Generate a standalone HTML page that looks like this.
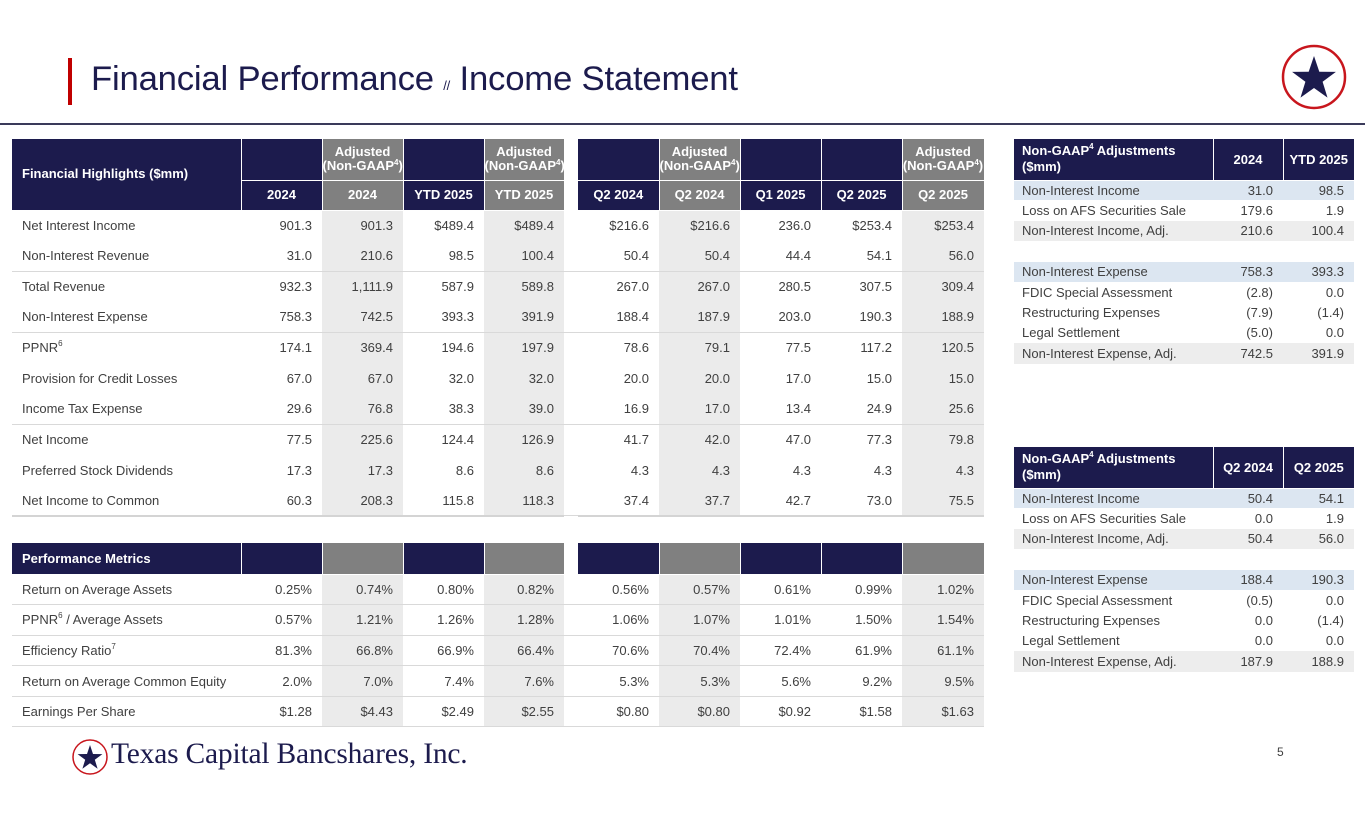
<!DOCTYPE html>
<html><head><meta charset="utf-8"><style>
*{margin:0;padding:0;box-sizing:border-box}
body{width:1365px;height:829px;background:#fff;position:relative;overflow:hidden;font-family:"Liberation Sans",Arial,sans-serif;color:#404040}
.abs{position:absolute}
table{border-collapse:collapse;table-layout:fixed;position:absolute}
td{font-size:13px;white-space:nowrap;padding:0 10px 0 0;text-align:right;vertical-align:middle}
td.l{text-align:left;padding-left:10px}
.n{background:#1c1b4d;color:#fff;font-weight:bold;border-right:1px solid #fff;border-bottom:1px solid #fff}
.g{background:#808080;color:#fff;font-weight:bold;border-right:1px solid #fff;border-bottom:1px solid #fff}
.h td.n,.h td.g{text-align:center;padding:0;line-height:14px}
.gap{background:#fff!important;border:none!important}
.s{background:#ebebeb}
tr.b td{height:30.6px}
tr.sep td{border-bottom:1px solid #d9d9d9}
tr.sep2 td{border-bottom:2px solid #d4d4d4}
tr.sep td.gap,tr.sep2 td.gap{border-bottom:1px solid #d9d9d9!important}
.rt td{height:20.4px;font-size:13px;color:#404040;padding-right:10px}
.rt td.l{padding-left:8px}
.rt td.n{color:#fff;font-weight:bold}
.bl td{background:#dce6f1}
.gr td{background:#ededed}
sup{font-size:8px;vertical-align:top;line-height:8px}
</style></head><body>
<div class="abs" style="left:68px;top:58px;width:4px;height:47px;background:#c00000"></div>
<div class="abs" style="left:91px;top:60px;font-size:34.7px;color:#1c1b4d;white-space:nowrap;letter-spacing:-0.2px">Financial Performance <span style="font-size:13px">//</span> Income Statement</div>
<div class="abs" style="left:0;top:123px;width:1365px;height:2px;background:#3a3a5a"></div>
<svg class="abs" style="left:1280px;top:44px" width="68" height="68" viewBox="0 0 68 68">
<circle cx="34" cy="33" r="31" fill="#fff" stroke="#c8161d" stroke-width="2.5"/>
<polygon fill="#1c1b4d" points="34,12 39.3,27.7 55.9,27.9 42.6,37.8 47.5,53.6 34,44 20.5,53.6 25.4,37.8 12.1,27.9 28.7,27.7"/>
</svg>

<table style="left:12px;top:139px;width:972px">
<colgroup><col style="width:229px"><col style="width:81px"><col style="width:81px"><col style="width:81px"><col style="width:80px"><col style="width:14px"><col style="width:81px"><col style="width:81px"><col style="width:81px"><col style="width:81px"><col style="width:82px"></colgroup>
<tr class="h" style="height:41px"><td class="n l" rowspan="2" style="text-align:left;padding-left:10px">Financial Highlights ($mm)</td><td class="n"></td><td class="g">Adjusted<br>(Non-GAAP<sup>4</sup>)</td><td class="n"></td><td class="g">Adjusted<br>(Non-GAAP<sup>4</sup>)</td><td class="gap"></td><td class="n"></td><td class="g">Adjusted<br>(Non-GAAP<sup>4</sup>)</td><td class="n"></td><td class="n"></td><td class="g">Adjusted<br>(Non-GAAP<sup>4</sup>)</td></tr>
<tr class="h" style="height:30px"><td class="n">2024</td><td class="g">2024</td><td class="n">YTD 2025</td><td class="g">YTD 2025</td><td class="gap"></td><td class="n">Q2 2024</td><td class="g">Q2 2024</td><td class="n">Q1 2025</td><td class="n">Q2 2025</td><td class="g">Q2 2025</td></tr>
<tr class="b"><td class="l">Net Interest Income</td><td>901.3</td><td class="s">901.3</td><td>$489.4</td><td class="s">$489.4</td><td class="gap"></td><td>$216.6</td><td class="s">$216.6</td><td>236.0</td><td>$253.4</td><td class="s">$253.4</td></tr>
<tr class="b sep"><td class="l">Non-Interest Revenue</td><td>31.0</td><td class="s">210.6</td><td>98.5</td><td class="s">100.4</td><td class="gap"></td><td>50.4</td><td class="s">50.4</td><td>44.4</td><td>54.1</td><td class="s">56.0</td></tr>
<tr class="b"><td class="l">Total Revenue</td><td>932.3</td><td class="s">1,111.9</td><td>587.9</td><td class="s">589.8</td><td class="gap"></td><td>267.0</td><td class="s">267.0</td><td>280.5</td><td>307.5</td><td class="s">309.4</td></tr>
<tr class="b sep"><td class="l">Non-Interest Expense</td><td>758.3</td><td class="s">742.5</td><td>393.3</td><td class="s">391.9</td><td class="gap"></td><td>188.4</td><td class="s">187.9</td><td>203.0</td><td>190.3</td><td class="s">188.9</td></tr>
<tr class="b"><td class="l">PPNR<sup>6</sup></td><td>174.1</td><td class="s">369.4</td><td>194.6</td><td class="s">197.9</td><td class="gap"></td><td>78.6</td><td class="s">79.1</td><td>77.5</td><td>117.2</td><td class="s">120.5</td></tr>
<tr class="b"><td class="l">Provision for Credit Losses</td><td>67.0</td><td class="s">67.0</td><td>32.0</td><td class="s">32.0</td><td class="gap"></td><td>20.0</td><td class="s">20.0</td><td>17.0</td><td>15.0</td><td class="s">15.0</td></tr>
<tr class="b sep"><td class="l">Income Tax Expense</td><td>29.6</td><td class="s">76.8</td><td>38.3</td><td class="s">39.0</td><td class="gap"></td><td>16.9</td><td class="s">17.0</td><td>13.4</td><td>24.9</td><td class="s">25.6</td></tr>
<tr class="b"><td class="l">Net Income</td><td>77.5</td><td class="s">225.6</td><td>124.4</td><td class="s">126.9</td><td class="gap"></td><td>41.7</td><td class="s">42.0</td><td>47.0</td><td>77.3</td><td class="s">79.8</td></tr>
<tr class="b"><td class="l">Preferred Stock Dividends</td><td>17.3</td><td class="s">17.3</td><td>8.6</td><td class="s">8.6</td><td class="gap"></td><td>4.3</td><td class="s">4.3</td><td>4.3</td><td>4.3</td><td class="s">4.3</td></tr>
<tr class="b sep2"><td class="l">Net Income to Common</td><td>60.3</td><td class="s">208.3</td><td>115.8</td><td class="s">118.3</td><td class="gap"></td><td>37.4</td><td class="s">37.7</td><td>42.7</td><td>73.0</td><td class="s">75.5</td></tr>
</table>

<table style="left:12px;top:543px;width:972px">
<colgroup><col style="width:229px"><col style="width:81px"><col style="width:81px"><col style="width:81px"><col style="width:80px"><col style="width:14px"><col style="width:81px"><col style="width:81px"><col style="width:81px"><col style="width:81px"><col style="width:82px"></colgroup>
<tr style="height:31px"><td class="n l" style="text-align:left">Performance Metrics</td><td class="n"></td><td class="g"></td><td class="n"></td><td class="g"></td><td class="gap"></td><td class="n"></td><td class="g"></td><td class="n"></td><td class="n"></td><td class="g"></td></tr>
<tr class="b sep"><td class="l">Return on Average Assets</td><td>0.25%</td><td class="s">0.74%</td><td>0.80%</td><td class="s">0.82%</td><td class="gap"></td><td>0.56%</td><td class="s">0.57%</td><td>0.61%</td><td>0.99%</td><td class="s">1.02%</td></tr>
<tr class="b sep"><td class="l">PPNR<sup>6</sup> / Average Assets</td><td>0.57%</td><td class="s">1.21%</td><td>1.26%</td><td class="s">1.28%</td><td class="gap"></td><td>1.06%</td><td class="s">1.07%</td><td>1.01%</td><td>1.50%</td><td class="s">1.54%</td></tr>
<tr class="b sep"><td class="l">Efficiency Ratio<sup>7</sup></td><td>81.3%</td><td class="s">66.8%</td><td>66.9%</td><td class="s">66.4%</td><td class="gap"></td><td>70.6%</td><td class="s">70.4%</td><td>72.4%</td><td>61.9%</td><td class="s">61.1%</td></tr>
<tr class="b sep"><td class="l">Return on Average Common Equity</td><td>2.0%</td><td class="s">7.0%</td><td>7.4%</td><td class="s">7.6%</td><td class="gap"></td><td>5.3%</td><td class="s">5.3%</td><td>5.6%</td><td>9.2%</td><td class="s">9.5%</td></tr>
<tr class="b sep"><td class="l">Earnings Per Share</td><td>$1.28</td><td class="s">$4.43</td><td>$2.49</td><td class="s">$2.55</td><td class="gap"></td><td>$0.80</td><td class="s">$0.80</td><td>$0.92</td><td>$1.58</td><td class="s">$1.63</td></tr>
</table>

<table class="rt" style="left:1014px;top:139px;width:340px">
<colgroup><col style="width:199px"><col style="width:70px"><col style="width:71px"></colgroup>
<tr style="height:41px"><td class="n l" style="height:41px;text-align:left;line-height:16px">Non-GAAP<sup>4</sup> Adjustments<br>($mm)</td><td class="n" style="text-align:center;padding:0">2024</td><td class="n" style="text-align:center;padding:0;border-right:none">YTD 2025</td></tr>
<tr class="bl"><td class="l">Non-Interest Income</td><td>31.0</td><td>98.5</td></tr>
<tr><td class="l">Loss on AFS Securities Sale</td><td>179.6</td><td>1.9</td></tr>
<tr class="gr"><td class="l">Non-Interest Income, Adj.</td><td>210.6</td><td>100.4</td></tr>
<tr><td class="l"></td><td></td><td></td></tr>
<tr class="bl"><td class="l">Non-Interest Expense</td><td>758.3</td><td>393.3</td></tr>
<tr><td class="l">FDIC Special Assessment</td><td>(2.8)</td><td>0.0</td></tr>
<tr><td class="l">Restructuring Expenses</td><td>(7.9)</td><td>(1.4)</td></tr>
<tr><td class="l">Legal Settlement</td><td>(5.0)</td><td>0.0</td></tr>
<tr class="gr"><td class="l">Non-Interest Expense, Adj.</td><td>742.5</td><td>391.9</td></tr>
</table>

<table class="rt" style="left:1014px;top:447px;width:340px">
<colgroup><col style="width:199px"><col style="width:70px"><col style="width:71px"></colgroup>
<tr style="height:41px"><td class="n l" style="height:41px;text-align:left;line-height:16px">Non-GAAP<sup>4</sup> Adjustments<br>($mm)</td><td class="n" style="text-align:center;padding:0">Q2 2024</td><td class="n" style="text-align:center;padding:0;border-right:none">Q2 2025</td></tr>
<tr class="bl"><td class="l">Non-Interest Income</td><td>50.4</td><td>54.1</td></tr>
<tr><td class="l">Loss on AFS Securities Sale</td><td>0.0</td><td>1.9</td></tr>
<tr class="gr"><td class="l">Non-Interest Income, Adj.</td><td>50.4</td><td>56.0</td></tr>
<tr><td class="l"></td><td></td><td></td></tr>
<tr class="bl"><td class="l">Non-Interest Expense</td><td>188.4</td><td>190.3</td></tr>
<tr><td class="l">FDIC Special Assessment</td><td>(0.5)</td><td>0.0</td></tr>
<tr><td class="l">Restructuring Expenses</td><td>0.0</td><td>(1.4)</td></tr>
<tr><td class="l">Legal Settlement</td><td>0.0</td><td>0.0</td></tr>
<tr class="gr"><td class="l">Non-Interest Expense, Adj.</td><td>187.9</td><td>188.9</td></tr>
</table>

<svg class="abs" style="left:71px;top:738px" width="38" height="38" viewBox="0 0 38 38">
<circle cx="19" cy="19" r="17" fill="#fff" stroke="#c8161d" stroke-width="1.5"/>
<polygon fill="#1c1b4d" points="19,7 22,16 31.4,16.1 23.8,21.7 26.6,30.7 19,25.2 11.4,30.7 14.2,21.7 6.6,16.1 16,16"/>
</svg>
<div class="abs" style="left:111px;top:738px;font-family:'Liberation Serif',serif;font-size:29.5px;color:#1c1b4d;white-space:nowrap;letter-spacing:-0.2px">Texas Capital Bancshares, Inc.</div>
<div class="abs" style="left:1277px;top:745px;font-size:12px;color:#404040">5</div>
</body></html>
